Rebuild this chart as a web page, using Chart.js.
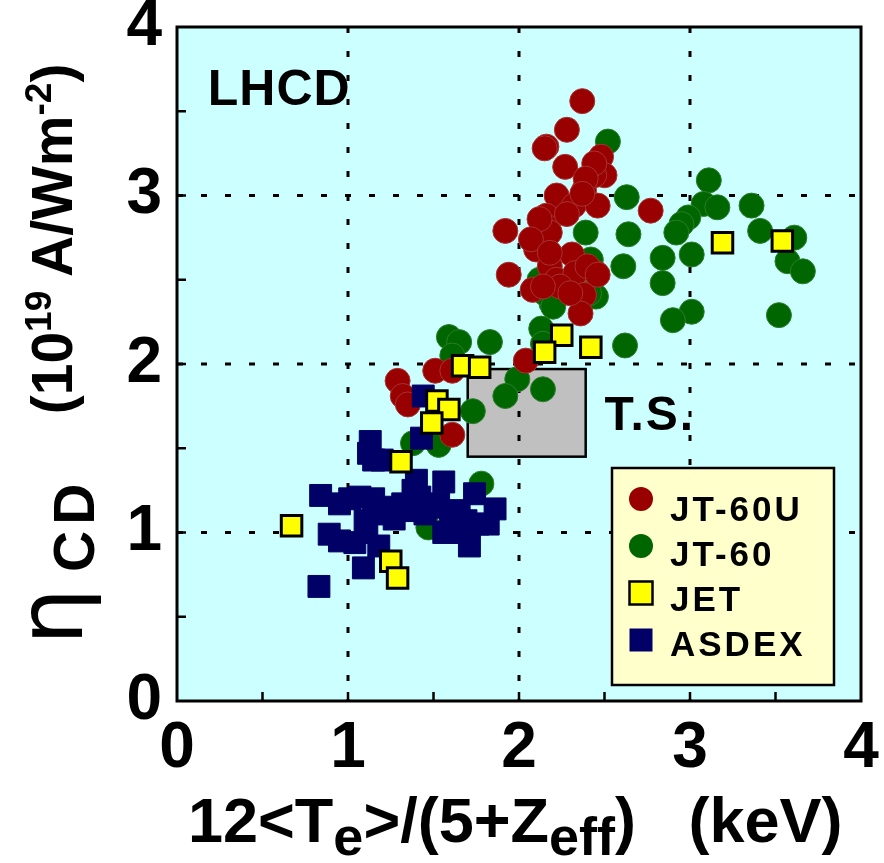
<!DOCTYPE html>
<html>
<head>
<meta charset="utf-8">
<script src="https://cdn.jsdelivr.net/npm/chart.js@4.4.0/dist/chart.umd.min.js"></script>
<style>
  html, body { margin: 0; padding: 0; background: #fff; }
  #wrap { position: relative; width: 884px; height: 863px; overflow: hidden; }
  #chart { position: absolute; left: 0; top: 0; }
  .ttl { position: absolute; font-family: "Liberation Sans", Arial, sans-serif; font-weight: bold; color: #000; white-space: nowrap; line-height: 1; }
  #xTitle { left: 188px; top: 789px; font-size: 63px; }
  #xTitle sub { font-size: 54px; vertical-align: -13px; line-height: 0; }
  #yTitle { left: 24px; top: 645px; font-size: 57px; transform-origin: 0 0; transform: rotate(-90deg); }
  #yTitle .eta { font-weight: normal; font-size: 90px; font-family: "DejaVu Sans", sans-serif; vertical-align: -10px; line-height: 0; margin-right: 16px; }
  #yTitle sub { font-size: 57px; letter-spacing: 6px; vertical-align: -22px; line-height: 0; }
  #yTitle sup { font-size: 37px; vertical-align: 21px; line-height: 0; }
</style>
</head>
<body>
<div id="wrap">
  <canvas id="chart" width="884" height="863"></canvas>
  <div id="xTitle" class="ttl">12&lt;T<sub>e</sub>&gt;/(5+Z<sub>eff</sub>)&nbsp;&nbsp;&nbsp;(keV)</div>
  <div id="yTitle" class="ttl"><span class="eta">η</span><sub>CD</sub>&nbsp;&nbsp;&nbsp;&nbsp;(10<sup>19</sup> A/Wm<sup>-2</sup>)</div>
</div>
<script>
// valores
const jt60uX = [2.37, 2.28, 2.16, 2.15, 2.27, 2.48, 2.50, 2.44, 2.22, 2.32, 2.38, 2.46, 2.77, 1.92, 2.16, 2.17,
  2.10, 2.18, 2.31, 1.94, 2.18, 2.22, 2.08, 2.45, 2.33, 2.38, 2.36, 2.24, 2.14, 2.30, 2.44, 2.39, 2.12, 2.07,
  2.28, 2.37, 2.18, 2.40, 2.46, 2.04, 1.51, 1.61, 1.29, 1.32, 1.35, 1.61];
const jt60uY = [3.56, 3.39, 3.29, 3.28, 3.17, 3.23, 3.12, 3.12, 3.00, 2.94, 3.03, 2.94, 2.91, 2.79, 2.88, 2.81,
  2.68, 2.78, 2.65, 2.53, 2.58, 2.50, 2.44, 2.54, 2.54, 2.41, 2.30, 2.46, 2.46, 2.42, 3.19, 3.10, 2.86, 2.74,
  2.89, 3.01, 2.66, 2.58, 2.53, 2.02, 1.96, 1.96, 1.90, 1.81, 1.76, 1.58];

const jt60X = [2.52, 3.11, 2.63, 3.08, 3.16, 3.36, 2.99, 2.95, 2.92, 3.41, 2.39, 2.64, 3.61, 2.84, 3.01, 2.61,
  3.57, 3.66, 2.84, 2.42, 2.19, 2.45, 3.01, 2.90, 3.52, 2.13, 2.14, 2.62, 2.12, 2.15, 2.20, 2.41,
  1.59, 1.65, 1.61, 1.83, 1.99, 1.92, 2.14, 1.73, 1.38, 1.53, 1.78, 1.47];
const jt60Y = [3.32, 3.09, 2.99, 2.95, 2.93, 2.94, 2.87, 2.83, 2.78, 2.79, 2.78, 2.77, 2.75, 2.63, 2.65, 2.58,
  2.61, 2.55, 2.48, 2.62, 2.36, 2.40, 2.31, 2.26, 2.29, 2.21, 2.12, 2.11, 2.50, 2.42, 2.34, 2.42,
  2.16, 2.13, 2.05, 2.13, 1.91, 1.81, 1.85, 1.72, 1.53, 1.52, 1.29, 1.03];

const jetX = [3.19, 3.54, 2.25, 2.15, 2.42, 1.67, 1.77, 1.52, 1.59, 1.49, 1.31, 0.67, 1.25, 1.29];
const jetY = [2.72, 2.73, 2.17, 2.07, 2.10, 1.99, 1.98, 1.78, 1.73, 1.65, 1.42, 1.04, 0.83, 0.73];

const asdexX = [0.83, 1.09, 1.13, 1.12, 1.15, 1.20, 1.43, 1.44, 0.84, 0.95, 1.07, 1.15, 0.89, 0.95, 1.04, 1.11,
  1.10, 1.18, 1.19, 1.26, 1.32, 1.40, 1.42, 1.56, 1.45, 1.53, 1.65, 1.74, 1.86, 1.82, 1.71, 1.56, 1.64,
  1.34, 1.27, 1.38, 1.48, 1.60, 1.69, 1.76, 1.01];
const asdexY = [0.68, 0.79, 1.54, 1.47, 1.43, 1.43, 1.56, 1.81, 1.22, 1.17, 1.21, 1.20, 0.99, 0.95, 0.94, 1.00,
  1.07, 0.92, 1.11, 1.15, 1.17, 1.31, 1.21, 1.30, 1.11, 1.17, 1.13, 1.23, 1.14, 1.05, 0.92, 1.00, 1.00,
  1.13, 1.08, 1.25, 1.15, 1.09, 1.07, 1.05, 1.20];

const seriesNames = ['JT-60U', 'JT-60', 'JET', 'ASDEX'];
const axisTicks = [0, 1, 2, 3, 4];
const gridValues = [1, 2, 3];
const minorTicks = [0.5, 1, 1.5, 2, 2.5, 3, 3.5];
const tsBox = { x0: 1.70, x1: 2.39, y0: 1.45, y1: 1.97 };   // região T.S.
const notes = [
  { text: 'LHCD', x: 0.18, y: 3.54, size: 50, spacing: 1 },
  { text: 'T.S.', x: 2.50, y: 1.61, size: 48, spacing: 2 }
];

const pts = (xs, ys) => xs.map((v, i) => ({ x: v, y: ys[i] }));

// Plugin: fundo, caixa T.S., grade tracejada, moldura, textos e legenda
const frame = {
  id: 'frame',
  beforeDatasetsDraw(chart) {
    const { ctx, chartArea: a, scales: { x, y } } = chart;
    ctx.save();
    ctx.fillStyle = '#ccffff';
    ctx.fillRect(a.left, a.top, a.width, a.height);

    const bx0 = x.getPixelForValue(tsBox.x0), bx1 = x.getPixelForValue(tsBox.x1);
    const by0 = y.getPixelForValue(tsBox.y1), by1 = y.getPixelForValue(tsBox.y0);
    ctx.fillStyle = '#c0c0c0';
    ctx.fillRect(bx0, by0, bx1 - bx0, by1 - by0);
    ctx.strokeStyle = '#000';
    ctx.lineWidth = 2.5;
    ctx.strokeRect(bx0, by0, bx1 - bx0, by1 - by0);

    ctx.lineWidth = 3;
    ctx.setLineDash([6, 18]);
    gridValues.forEach(v => {
      const px = x.getPixelForValue(v), py = y.getPixelForValue(v);
      ctx.beginPath(); ctx.moveTo(px, a.top); ctx.lineTo(px, a.bottom); ctx.stroke();
      ctx.beginPath(); ctx.moveTo(a.left, py); ctx.lineTo(a.right, py); ctx.stroke();
    });
    ctx.setLineDash([]);
    ctx.lineWidth = 2.5;
    minorTicks.forEach(v => {
      const px = x.getPixelForValue(v), py = y.getPixelForValue(v);
      ctx.beginPath(); ctx.moveTo(px, a.bottom); ctx.lineTo(px, a.bottom - 9); ctx.stroke();
      ctx.beginPath(); ctx.moveTo(a.left, py); ctx.lineTo(a.left + 9, py); ctx.stroke();
    });
    ctx.restore();
  },
  afterDatasetsDraw(chart) {
    const { ctx, chartArea: a, scales: { x, y } } = chart;
    ctx.save();
    ctx.strokeStyle = '#000';
    ctx.lineWidth = 3;
    ctx.strokeRect(a.left, a.top, a.width, a.height);

    ctx.fillStyle = '#000';
    ctx.textBaseline = 'alphabetic';
    notes.forEach(n => {
      ctx.font = 'bold ' + n.size + 'px "Liberation Sans", Arial, sans-serif';
      ctx.letterSpacing = n.spacing + 'px';
      ctx.fillText(n.text, x.getPixelForValue(n.x), y.getPixelForValue(n.y));
    });

    // legenda
    const w = 222, h = 217;
    const lx = a.right - 27 - w, ly = a.bottom - 16 - h;
    ctx.fillStyle = '#ffffcc';
    ctx.fillRect(lx, ly, w, h);
    ctx.lineWidth = 2.5;
    ctx.strokeRect(lx, ly, w, h);
    ctx.font = 'bold 35px "Liberation Sans", Arial, sans-serif';
    ctx.letterSpacing = '3px';
    chart.data.datasets.forEach((ds, i) => {
      const mx = lx + 29, my = ly + 31 + i * 47;
      ctx.fillStyle = ds.backgroundColor;
      if (ds.pointStyle === 'circle') {
        ctx.beginPath(); ctx.arc(mx, my, 12, 0, Math.PI * 2); ctx.fill();
      } else {
        ctx.fillRect(mx - 11.5, my - 11.5, 23, 23);
        if (ds.pointBorderWidth > 1) {
          ctx.lineWidth = 2.5; ctx.strokeStyle = '#000';
          ctx.strokeRect(mx - 11.5, my - 11.5, 23, 23);
        }
      }
      ctx.fillStyle = '#000';
      ctx.fillText(ds.label, lx + 58, ly + 53 + i * 45);
    });
    ctx.restore();
  }
};

Chart.defaults.font.family = '"Liberation Sans", Arial, sans-serif';

const ctx = document.getElementById('chart').getContext('2d');
const chart = new Chart(ctx, {
  type: 'scatter',
  data: {
    datasets: [{
      label: seriesNames[0],
      data: pts(jt60uX, jt60uY),
      pointStyle: 'circle',
      pointRadius: 12.5,
      backgroundColor: '#990000',
      borderColor: '#a83232',
      pointBorderWidth: 1,
      order: 2
    }, {
      label: seriesNames[1],
      data: pts(jt60X, jt60Y),
      pointStyle: 'circle',
      pointRadius: 12.5,
      backgroundColor: '#006600',
      borderColor: '#2a7d2a',
      pointBorderWidth: 1,
      order: 3
    }, {
      label: seriesNames[2],
      data: pts(jetX, jetY),
      pointStyle: 'rect',
      pointRadius: 14.5,
      backgroundColor: '#ffff00',
      borderColor: '#000000',
      pointBorderWidth: 3,
      order: 0
    }, {
      label: seriesNames[3],
      data: pts(asdexX, asdexY),
      pointStyle: 'rect',
      pointRadius: 15.5,
      backgroundColor: '#000066',
      borderColor: '#000066',
      pointBorderWidth: 1,
      order: 1
    }]
  },
  options: {
    responsive: false,
    animation: false,
    events: [],
    layout: { padding: { top: 27, right: 23, left: 0, bottom: 0 } },
    plugins: { legend: { display: false }, tooltip: { enabled: false } },
    scales: {
      x: {
        type: 'linear', min: 0, max: 4,
        grid: { display: false }, border: { display: false },
        ticks: {
          stepSize: 0.5, padding: 8, color: '#000',
          font: { size: 64, weight: 'bold', lineHeight: 1 },
          maxRotation: 0, autoSkip: false,
          callback: v => axisTicks.includes(v) ? String(v) : ''
        },
        afterFit(s) { s.height = 162; s.paddingLeft = 0; s.paddingRight = 0; }
      },
      y: {
        type: 'linear', min: 0, max: 4,
        grid: { display: false }, border: { display: false },
        ticks: {
          stepSize: 0.5, padding: 7, color: '#000',
          font: { size: 64, weight: 'bold', lineHeight: 1 },
          autoSkip: false,
          callback: v => axisTicks.includes(v) ? String(v) : ''
        },
        afterFit(s) { s.width = 177; s.paddingTop = 0; s.paddingBottom = 0; }
      }
    }
  },
  plugins: [frame]
});
</script>
</body>
</html>
